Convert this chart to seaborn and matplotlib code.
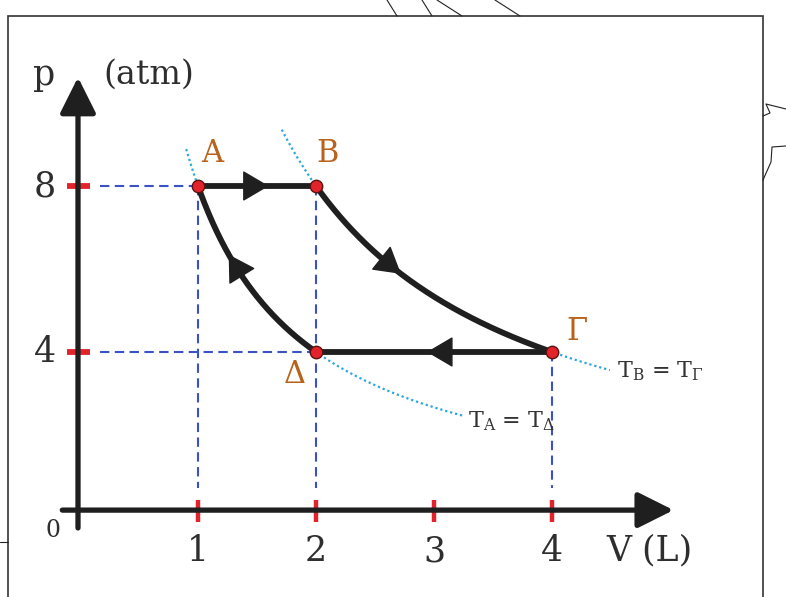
import matplotlib.pyplot as plt
import numpy as np
import seaborn as sns
from matplotlib.lines import Line2D
from matplotlib.patches import Rectangle

# States of the cycle: A, B, Gamma, Delta
state_names = ["A", "B", "Γ", "Δ"]
V_states = [1, 2, 4, 2]      # L
p_states = [8, 8, 4, 4]      # atm
v_ticks = [1, 2, 3, 4]
p_ticks = [4, 8]

sns.set_theme(style="white")
plt.rcParams['font.family'] = ['DejaVu Serif', 'DejaVu Sans']
plt.rcParams['mathtext.fontset'] = 'dejavuserif'

ink = "#1f1f1f"
txt = "#2e2e2e"
red = "#e3232c"
brown = "#b8621c"
blue = "#3a52c6"
cyan = "#2ba6de"

fig = plt.figure(figsize=(7.86, 5.97), dpi=100)
fig.patch.set_facecolor("white")
ax = fig.add_axes([0, 0, 1, 1])
ax.set_xlim(-80 / 118, 706 / 118)
ax.set_ylim(-79 / 41.5, 518 / 41.5)
ax.axis("off")

VA, VB, VG, VD = V_states
pA, pB, pG, pD = p_states


def iso(v0, v1, const):
    v = np.linspace(v0, v1, 200)
    return v, const / v


# isotherms (dotted)
v, p = iso(0.9, 3.26, pA * VA)
sns.lineplot(x=v, y=p, sort=False, estimator=None, ax=ax, color=cyan, lw=1.6,
             linestyle=(0, (1, 1.3)))
v, p = iso(1.71, 4.49, pB * VB)
sns.lineplot(x=v, y=p, sort=False, estimator=None, ax=ax, color=cyan, lw=1.6,
             linestyle=(0, (1, 1.3)))

# dashed guides
dash = (0, (4.5, 2.6))
for vv, pp in [(VA, pA), (VD, pD)]:
    ax.plot([0.17, vv], [pp, pp], color=blue, lw=1.5, linestyle=dash)
for vv, pp in [(VA, pA), (VB, pB), (VG, pG)]:
    ax.plot([vv, vv], [pp, 0.72], color=blue, lw=1.5, linestyle=dash)

# axes with arrows
arrow = dict(arrowstyle="-|>,head_length=1.1,head_width=0.55", mutation_scale=20,
             lw=3.8, color=ink, shrinkA=0, shrinkB=0)
ax.annotate("", xy=(5.03, 0.19), xytext=(-0.15, 0.19), arrowprops=arrow)
ax.annotate("", xy=(-0.017, 10.62), xytext=(-0.017, -0.24), arrowprops=arrow)

# red ticks
for t in v_ticks:
    ax.plot([t, t], [-0.1, 0.43], color=red, lw=3.2, solid_capstyle="butt")
for t in p_ticks:
    ax.plot([-0.11, 0.085], [t, t], color=red, lw=4.2, solid_capstyle="butt")
    ax.text(-0.3, t, str(t), fontsize=25, ha="center", va="center", color=txt)
for t in v_ticks:
    ax.text(t, -0.8, str(t), fontsize=25, ha="center", va="center", color=txt)
ax.text(-0.23, -0.31, "0", fontsize=17, ha="center", va="center", color=txt)

ax.text(-0.3, 10.67, "p", fontsize=25, ha="center", va="center", color=txt)
ax.text(0.58, 10.67, "(atm)", fontsize=24, ha="center", va="center", color=txt)
ax.text(4.83, -0.77, "V (L)", fontsize=25, ha="center", va="center", color=txt)

# cycle path
lw_path = 4.2
sns.lineplot(x=[VA, VB], y=[pA, pB], ax=ax, color=ink, lw=lw_path)
v, p = iso(VB, VG, pB * VB)
sns.lineplot(x=v, y=p, sort=False, estimator=None, ax=ax, color=ink, lw=lw_path)
sns.lineplot(x=[VG, VD], y=[pG, pD], ax=ax, color=ink, lw=lw_path)
v, p = iso(VD, VA, pD * VD)
sns.lineplot(x=v, y=p, sort=False, estimator=None, ax=ax, color=ink, lw=lw_path)

# direction arrows
head = dict(arrowstyle="-|>,head_length=0.85,head_width=0.5", mutation_scale=20,
            lw=1, color=ink, shrinkA=0, shrinkB=0)
ax.annotate("", xy=(1.6, pA), xytext=(1.45, pA), arrowprops=head)
ax.annotate("", xy=(2.72, pB * VB / 2.72), xytext=(2.58, pB * VB / 2.58), arrowprops=head)
ax.annotate("", xy=(2.94, pG), xytext=(3.1, pG), arrowprops=head)
ax.annotate("", xy=(1.26, pA * VA / 1.26), xytext=(1.38, pA * VA / 1.38), arrowprops=head)

# states
sns.scatterplot(x=V_states, y=p_states, ax=ax, color=red, s=80,
                edgecolor="#5a1212", linewidth=1, zorder=5)
offsets = [(14, 33), (12, 33), (25, 21), (-21, -22)]
for name, vv, pp, off in zip(state_names, V_states, p_states, offsets):
    ax.annotate(name, (vv, pp), xytext=off, textcoords="offset pixels",
                fontsize=22, color=brown, ha="center", va="center")

ax.text(3.29, 2.19, r"$\mathrm{T_{A}}$ = $\mathrm{T_{\Delta}}$", fontsize=16,
        color="#333333", ha="left", va="baseline")
ax.text(4.55, 3.40, r"$\mathrm{T_{B}}$ = $\mathrm{T_{\Gamma}}$", fontsize=16,
        color="#333333", ha="left", va="baseline")

# page frame and scan leftovers
fig.add_artist(Rectangle((8 / 786, -0.01), 755 / 786, 581 / 597 + 0.01,
                         transform=fig.transFigure, fill=False,
                         edgecolor="#333333", lw=1.2))
H = 597
for x0, x1 in [(387, 397), (422, 432), (437, 462), (495, 520)]:
    fig.add_artist(Line2D([x0 / 786, x1 / 786], [1, 1 - 16 / H],
                          transform=fig.transFigure, color="#222222", lw=0.8))
fig.add_artist(Line2D([0, 8 / 786], [1 - 542 / H, 1 - 542 / H],
                      transform=fig.transFigure, color="#222222", lw=0.8))
fig.add_artist(Line2D([786 / 786, 766 / 786, 770 / 786, 763 / 786],
                      [1 - 109 / H, 1 - 104 / H, 1 - 113 / H, 1 - 116 / H],
                      transform=fig.transFigure, color="#222222", lw=0.8))
fig.add_artist(Line2D([786 / 786, 772 / 786, 771 / 786, 763 / 786],
                      [1 - 146 / H, 1 - 147 / H, 1 - 162 / H, 1 - 180 / H],
                      transform=fig.transFigure, color="#222222", lw=0.8))

fig.savefig("out.png", dpi=100)
